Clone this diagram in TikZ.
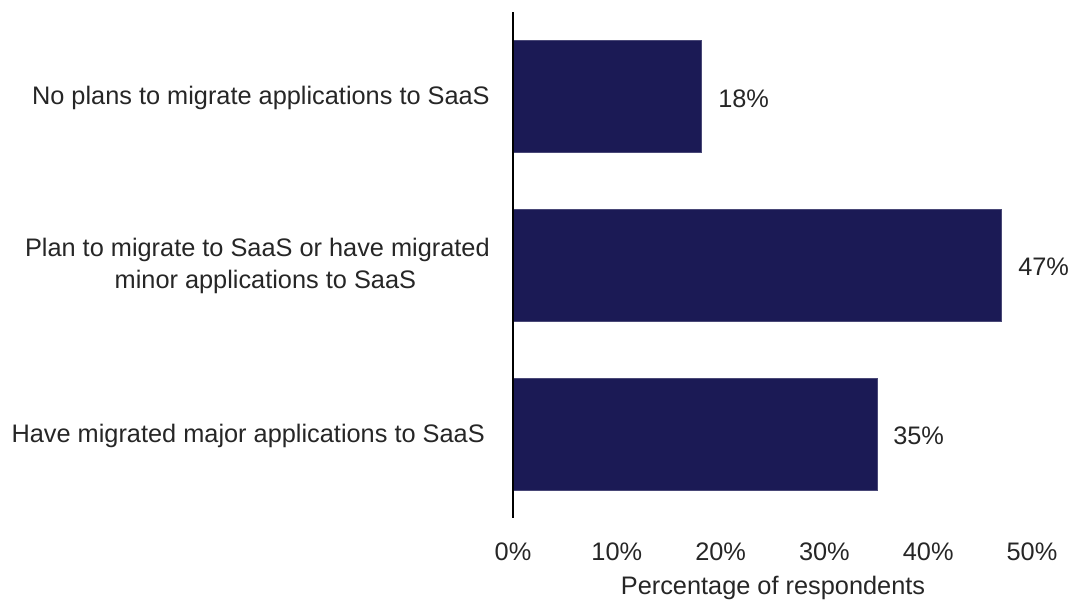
\documentclass[tikz,border=0pt]{standalone}
\usepackage{fontspec}
\setmainfont{Liberation Sans}
\definecolor{barnavy}{HTML}{1B1A55}
\begin{document}
\begin{tikzpicture}[x=0.75pt,y=-0.75pt,
  bar/.style={fill=barnavy,draw=barnavy!80!white,line width=0.5pt},
  cat/.style={font=\fontsize{19}{23.5}\selectfont,text=black!85,align=center,inner sep=0pt},
  val/.style={font=\fontsize{19}{23}\selectfont,text=black!85,anchor=west,inner sep=0pt},
  tick/.style={font=\fontsize{19}{23}\selectfont,text=black!85,inner sep=0pt}]
\useasboundingbox (0,0) rectangle (1086,600);
% bars
\draw[bar] (513,40) rectangle (701,152);
\draw[bar] (513,209) rectangle (1001,321);
\draw[bar] (513,378) rectangle (877,490);
% axis
\draw[line width=1.6pt,black] (513,12) -- (513,518);
% category labels
\node[cat,anchor=east] (c1) at (490,98) {No plans to migrate applications to SaaS};
\node[cat,anchor=east] (c2) at (490,266) {Plan to migrate to SaaS or have migrated\\\hspace*{12pt}minor applications to SaaS};
\node[cat,anchor=east] (c3) at (485,436) {Have migrated major applications to SaaS};
% values
\node[val] (v1) at (718,99) {18\%};
\node[val] (v2) at (1018,267) {47\%};
\node[val] (v3) at (893,436) {35\%};
% ticks
\foreach \p [count=\i from 0] in {0,10,20,30,40,50}{
  \node[tick] (t\i) at ({513+10.38*\p},552) {\p\%};
}
\node[tick] (xl) at (773,588) {Percentage of respondents};
\end{tikzpicture}
\end{document}
